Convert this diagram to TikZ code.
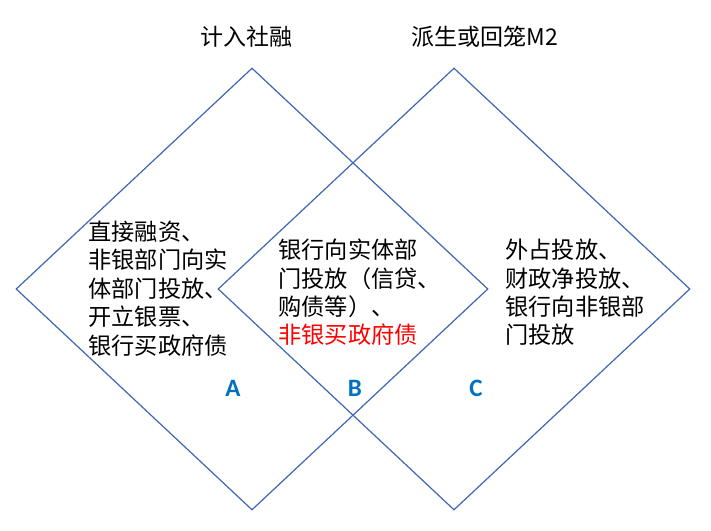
\documentclass[tikz,border=0pt]{standalone}
\usepackage{fontspec}
\newfontfamily\cjkfont{Noto Sans CJK SC}
\newfontfamily\letterfont{Carlito}
\usetikzlibrary{shapes.geometric}
\definecolor{edgeblue}{RGB}{62,102,178}
\definecolor{tagblue}{RGB}{0,112,192}

\begin{document}
\begin{tikzpicture}[
    x=0.5pt,y=-0.5pt,
    zone/.style={
      draw=edgeblue,
      diamond,
      line width=0.6pt,
      inner sep=0pt,
      minimum width=236pt,
      minimum height=221pt
    },
    txt/.style={
      anchor=west,
      align=left,
      inner sep=0pt,
      font=\cjkfont\fontsize{11.6pt}{14.2pt}\selectfont
    },
    heading/.style={
      font=\cjkfont\fontsize{11.5pt}{14pt}\selectfont
    },
    tag/.style={
      text=tagblue,
      font=\letterfont\bfseries\fontsize{12.5pt}{15pt}\selectfont
    }
    ]
    \useasboundingbox (0,0) rectangle (711,530);
    \node[zone] (shrong) at (252,289) {};
    \node[zone] (msupply) at (454,289) {};

    \node[heading] (shrongtitle) at (246,37) {计入社融};
    \node[heading] (msupplytitle) at (485,37) {派生或回笼M2};

    \node[txt] (atext) at (88,288.5)
      {直接融资、\\非银部门向实\\体部门投放、\\开立银票、\\银行买政府债};
    \node[txt] (btext) at (278,292.5)
      {银行向实体部\\门投放（信贷、\\购债等）、\\{\color{red}非银买政府债}};
    \node[txt] (ctext) at (505,292.5)
      {外占投放、\\财政净投放、\\银行向非银部\\门投放};

    \node[tag] (a) at (233,388) {A};
    \node[tag] (b) at (355,388) {B};
    \node[tag] (c) at (476,388) {C};
\end{tikzpicture}
\end{document}
